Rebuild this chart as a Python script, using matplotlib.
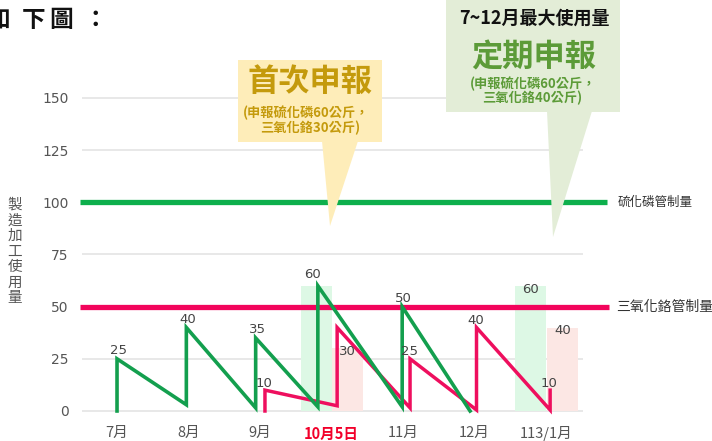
import matplotlib
matplotlib.use('Agg')
import matplotlib.pyplot as plt
from matplotlib.patches import Rectangle, Polygon

plt.rcParams['font.family'] = ['Noto Sans CJK TC', 'DejaVu Sans']

# ---------------- data ----------------
months = ['7月', '8月', '9月', '10月5日', '11月', '12月', '113/1月']
yticks = [0, 25, 50, 75, 100, 125, 150]

# 硫化磷 (green) usage, x in month units (7月 = 0)
green_x = [0, 0, 0.97, 0.97, 1.94, 1.94, 2.81, 2.81, 3.99, 3.99, 4.94]
green_y = [0, 25, 3, 40, 1.5, 35, 2, 60, 2, 50, 0]
green_labeled = [1, 3, 5, 7, 9]

# 三氧化鉻 (red) usage
red_x = [2.07, 2.07, 3.08, 3.08, 4.10, 4.10, 5.03, 5.03, 6.06, 6.06]
red_y = [0, 10, 2.5, 40, 1.5, 25, 0.5, 40, 0.5, 10]
red_labeled = [1, 5, 7, 9]

# declared amounts (bars)
bar_x = [2.79, 3.22, 5.79, 6.23]
bar_v = [60, 30, 60, 40]
bar_kind = ['so', 'cr', 'so', 'cr']
bar_labeled = [False, True, True, True]

limit_so = 100
limit_cr = 50
limit_so_label = '硫化磷管制量'
limit_cr_label = '三氧化鉻管制量'
ylabel_text = '製造加工使用量'
title_text = '如下圖：'

# ---------------- figure ----------------
W, H = 712, 441
fig = plt.figure(figsize=(W / 100, H / 100), dpi=100)

x0, x1 = -0.49, 6.52
y0, y1 = -5, 155
ax_l, ax_r = 82, 583
ax_t = 411 - 2.087 * y1
ax_b = 411 - 2.087 * y0
ax = fig.add_axes([ax_l / W, (H - ax_b) / H, (ax_r - ax_l) / W, (ax_b - ax_t) / H])
ax.set_xlim(x0, x1)
ax.set_ylim(y0, y1)
for s in ax.spines.values():
    s.set_visible(False)

ax.set_yticks(yticks)
ax.set_yticklabels([str(v) for v in yticks])
ax.yaxis.grid(True, color='#e4e4e4', lw=1.2, zorder=0)
ax.set_axisbelow(True)
ax.tick_params(axis='y', length=0, pad=9.5, labelsize=10, labelcolor='#555555')
ax.set_xticks(range(len(months)))
ax.set_xticklabels(months)
ax.tick_params(axis='x', length=0, pad=3.5, labelsize=10.5, labelcolor='#555555')
for lab in ax.get_xticklabels():
    if lab.get_text() == '10月5日':
        lab.set_color('#F2002A')
        lab.set_fontweight('bold')
    lab.set_fontfamily(['Noto Sans CJK TC', 'DejaVu Sans'])
for lab in ax.get_yticklabels():
    lab.set_fontfamily(['DejaVu Sans'])

# bars
bar_colors = {'so': '#DDF8E5', 'cr': '#FCE7E4'}
ax.bar(bar_x, bar_v, width=0.43, color=[bar_colors[k] for k in bar_kind], zorder=1)
for bx, bv, lbl in zip(bar_x, bar_v, bar_labeled):
    if lbl:
        ax.annotate(str(bv), (bx, bv), xytext=(0, -2.5), textcoords='offset points',
                    ha='center', va='center', fontsize=9.5, color='#444444',
                    family='DejaVu Sans', zorder=6)

# limit lines
xs_start = (80 - 117) / 71.5
ax.plot([xs_start, (607 - 117) / 71.5], [limit_so, limit_so], color='#0DAF4C', lw=3.8,
        solid_capstyle='butt', clip_on=False, zorder=2)
ax.plot([xs_start, (609 - 117) / 71.5], [limit_cr, limit_cr], color='#F2045C', lw=3.8,
        solid_capstyle='butt', clip_on=False, zorder=2)
ax.text((618 - 117) / 71.5, limit_so, limit_so_label, ha='left', va='center',
        fontsize=9, color='#333333', clip_on=False)
ax.text((616 - 117) / 71.5, limit_cr, limit_cr_label, ha='left', va='center',
        fontsize=10, color='#333333', clip_on=False)

# series
ax.plot(red_x, red_y, color='#EE0F5E', lw=2.5, solid_joinstyle='miter', zorder=3, clip_on=False)
ax.plot(green_x, green_y, color='#139F4E', lw=2.6, solid_joinstyle='miter', zorder=4, clip_on=False)

offsets = {('g', 7): (-4, 8)}
for i in green_labeled:
    dx, dy = offsets.get(('g', i), (1, 6))
    ax.annotate(str(int(green_y[i])), (green_x[i], green_y[i]), xytext=(dx, dy),
                textcoords='offset points', ha='center', va='center', fontsize=9.5,
                color='#444444', family='DejaVu Sans', zorder=6)
for i in red_labeled:
    ax.annotate(str(int(red_y[i])), (red_x[i], red_y[i]), xytext=(-0.5, 5),
                textcoords='offset points', ha='center', va='center', fontsize=9.5,
                color='#444444', family='DejaVu Sans', zorder=6)

# ---------------- overlay (pixel coordinates) ----------------
ov = fig.add_axes([0, 0, 1, 1], zorder=5)
ov.set_xlim(0, W)
ov.set_ylim(H, 0)
ov.axis('off')

# title (cropped at left edge as in the reference), letter-spaced
for cx, ch in zip([-2, 34, 61, 95], title_text):
    ov.text(cx, 20, ch, fontsize=17, fontweight='bold', color='#111111',
            ha='center', va='center')

# y label: stacked characters
for k, ch in enumerate(ylabel_text):
    ov.text(15, 205 + 15.5 * k, ch, fontsize=10.5, color='#555555', ha='center', va='center')

# yellow callout
yel = '#FEEDB9'
ov.add_patch(Rectangle((238, 60), 144, 82, color=yel, lw=0))
ov.add_patch(Polygon([(322, 141), (358, 141), (330, 226)], closed=True, color=yel, lw=0))
gold = '#C49A0C'
ov.text(310, 82, '首次申報', fontsize=22.5, fontweight='bold', color=gold, ha='center', va='center')
ov.text(306, 113, '(申報硫化磷60公斤，', fontsize=9.5, fontweight='bold', color=gold,
        ha='center', va='center')
ov.text(310, 128, '三氧化鉻30公斤)', fontsize=9.5, fontweight='bold', color=gold,
        ha='center', va='center')

# green callout
grn = '#E3EDD7'
ov.add_patch(Rectangle((446, 0), 174, 112, color=grn, lw=0))
ov.add_patch(Polygon([(547, 111), (592, 111), (553, 237)], closed=True, color=grn, lw=0))
gtxt = '#5C9B38'
ov.text(534, 18, '7~12月最大使用量', fontsize=13, fontweight='bold', color='#111111',
        ha='center', va='center')
ov.text(534, 57, '定期申報', fontsize=22.5, fontweight='bold', color=gtxt, ha='center', va='center')
ov.text(533, 84, '(申報硫化磷60公斤，', fontsize=9.5, fontweight='bold', color=gtxt,
        ha='center', va='center')
ov.text(532, 98, '三氧化鉻40公斤)', fontsize=9.5, fontweight='bold', color=gtxt,
        ha='center', va='center')

fig.savefig('out.png', dpi=100)
